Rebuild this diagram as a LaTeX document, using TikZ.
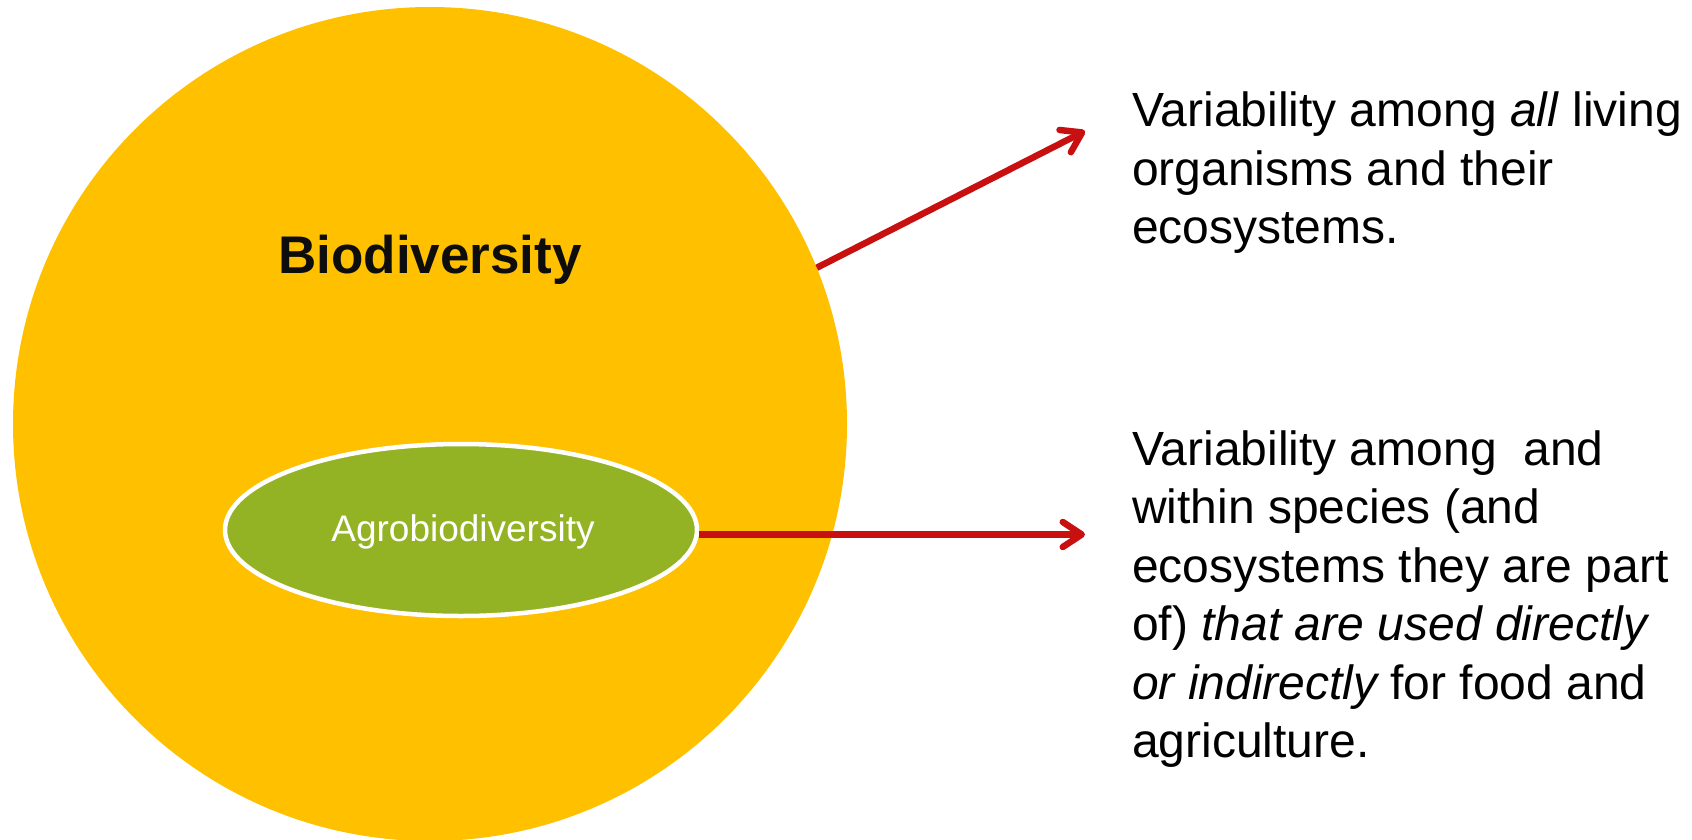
\documentclass[tikz,border=0pt]{standalone}
\usepackage{fontspec}
\setmainfont{Liberation Sans}
\usetikzlibrary{arrows.meta,shapes.geometric}

\definecolor{gold}{RGB}{255,192,0}
\definecolor{leaf}{RGB}{148,179,36}
\definecolor{arrowred}{RGB}{200,16,16}

\begin{document}
\begin{tikzpicture}[x=1pt,y=-1pt,
  pointer/.style={draw=arrowred, line width=6.5pt,
    -{Straight Barb[length=19pt,width=25pt,round]}},
  desc/.style={anchor=base west, inner sep=0pt, font=\fontsize{48}{58.5}\selectfont}]
  \useasboundingbox (0,0) rectangle (1692,840);

  % outer circle: all biodiversity
  \node[circle, fill=gold, minimum size=834pt, inner sep=0pt] (bio) at (430,424) {};
  \node[anchor=base, inner sep=0pt, font=\fontsize{53}{60}\selectfont\bfseries, text=black!95]
    (biolabel) at (430,273) {Biodiversity};

  % inner ellipse: agrobiodiversity
  \node[ellipse, draw=white, line width=4.5pt, fill=leaf,
        minimum width=472pt, minimum height=172pt, inner sep=0pt] (agro) at (461,530) {};
  \node[anchor=base, inner sep=0pt, text=white, font=\fontsize{37}{44}\selectfont]
    (agrolabel) at (463,541) {Agrobiodiversity};

  % arrow tips
  \coordinate (tipA) at (1085,131);
  \coordinate (tipB) at (1085,534.5);

  \draw[pointer] (bio.22.5) -- (tipA);
  \draw[pointer] (agro.east |- tipB) -- (tipB);

  % descriptions
  \node[desc] (descA) at (1132,127) {\parbox[t]{560pt}{\raggedright
    Variability among \textit{all} living\\
    organisms and their\\
    ecosystems.}};
  \node[desc] (descB) at (1132,465) {\parbox[t]{560pt}{\raggedright
    Variability among\ \ and\\
    within species (and\\
    ecosystems they are part\\
    of) \textit{that are used directly}\\
    \textit{or indirectly}\kern-3pt\ for food and\\
    agriculture.}};
\end{tikzpicture}
\end{document}
